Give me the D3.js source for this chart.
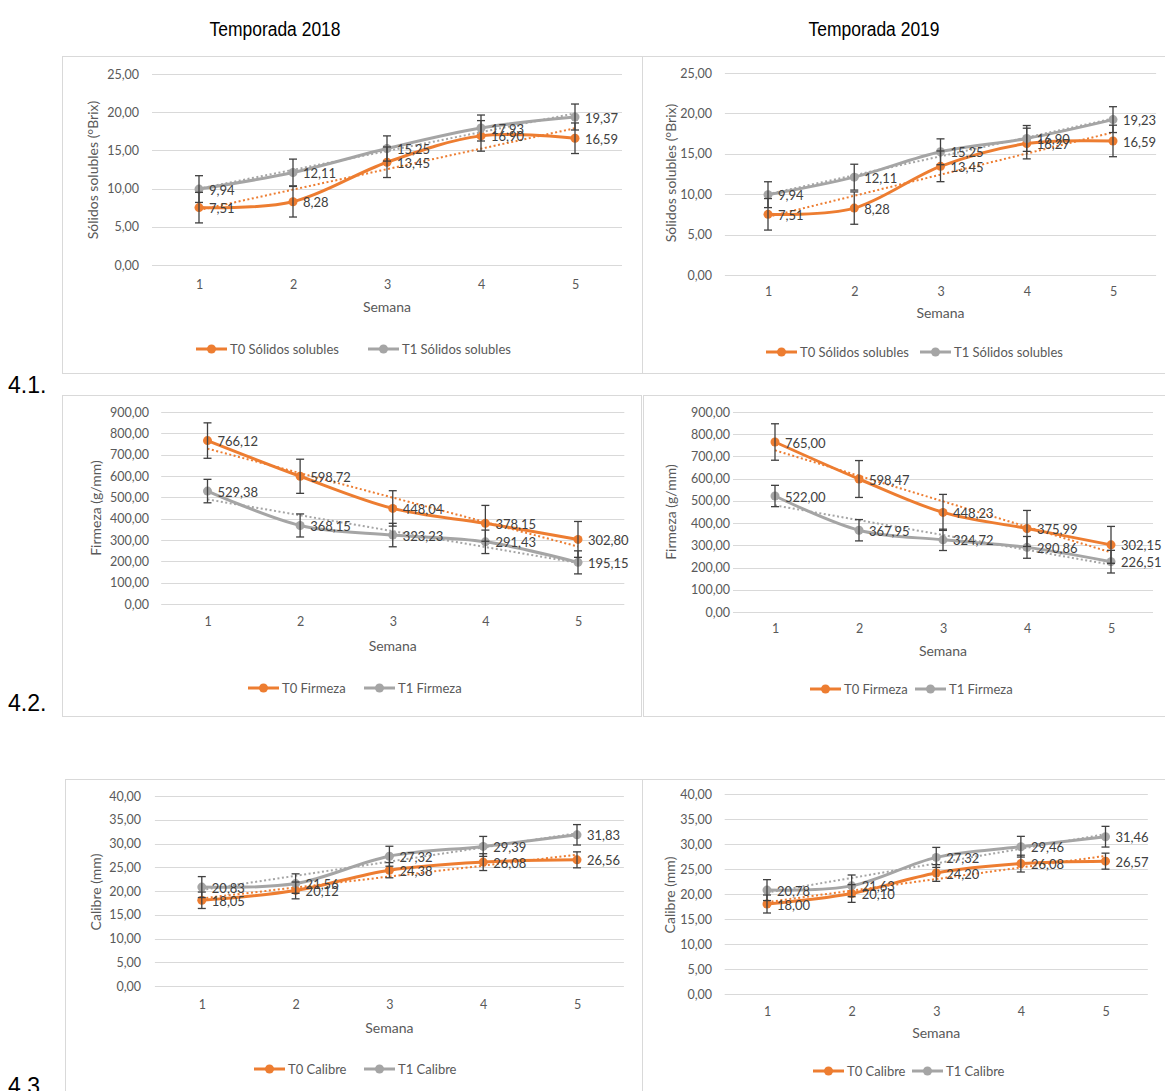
<!DOCTYPE html>
<html>
<head>
<meta charset="utf-8">
<script src="https://cdn.jsdelivr.net/npm/d3@7"></script>
<style>
  body { margin: 0; background: #fff; }
  svg { display: block; }
</style>
</head>
<body>
<div id="chart"></div>
<script>
// Semanas (eje X, categorías)
const weeks = [1, 2, 3, 4, 5];

// Ticks del eje Y de cada variable
const ssTicks = [0, 5, 10, 15, 20, 25];
const firmTicks = [0, 100, 200, 300, 400, 500, 600, 700, 800, 900];
const calTicks = [0, 5, 10, 15, 20, 25, 30, 35, 40];

// 4.1 Sólidos solubles (°Brix)
const ss2018T0 = [7.51, 8.28, 13.45, 16.90, 16.59];
const ss2018T1 = [9.94, 12.11, 15.25, 17.93, 19.37];
const ss2018T0Err = [2.0, 2.0, 2.0, 2.0, 2.0];
const ss2018T1Err = [1.75, 1.75, 1.65, 1.7, 1.7];
const ss2019T0 = [7.51, 8.28, 13.45, 16.27, 16.59];
const ss2019T1 = [9.94, 12.11, 15.25, 16.90, 19.23];
const ss2019T0Err = [1.95, 2.0, 1.9, 1.9, 1.95];
const ss2019T1Err = [1.6, 1.6, 1.6, 1.6, 1.6];

// 4.2 Firmeza (g/mm)
const firm2018T0 = [766.12, 598.72, 448.04, 378.15, 302.80];
const firm2018T1 = [529.38, 368.15, 323.23, 291.43, 195.15];
const firm2018T0Err = [83, 80, 83, 84, 84];
const firm2018T1Err = [55, 54, 55, 55, 54];
const firm2019T0 = [765.00, 598.47, 448.23, 375.99, 302.15];
const firm2019T1 = [522.00, 367.95, 324.72, 290.86, 226.51];
const firm2019T0Err = [82, 83, 81, 81, 83];
const firm2019T1Err = [48, 48, 48, 49, 51];

// 4.3 Calibre (mm)
const cal2018T0 = [18.05, 20.12, 24.38, 26.08, 26.56];
const cal2018T1 = [20.83, 21.56, 27.32, 29.39, 31.83];
const cal2018T0Err = [1.73, 1.77, 1.6, 1.77, 1.68];
const cal2018T1Err = [2.2, 2.05, 2.1, 2.1, 2.15];
const cal2019T0 = [18.00, 20.10, 24.20, 26.08, 26.57];
const cal2019T1 = [20.78, 21.63, 27.32, 29.46, 31.46];
const cal2019T0Err = [1.8, 1.77, 1.67, 1.68, 1.6];
const cal2019T1Err = [2.09, 2.17, 2.0, 2.07, 2.07];

const seasons = ["Temporada 2018", "Temporada 2019"];
const rowLabels = ["4.1.", "4.2.", "4.3"];

const orange = "#ED7D31",
      gray = "#A5A5A5";

const width = 1165,
      height = 1091;

const svg = d3.select("#chart").append("svg")
    .attr("width", width)
    .attr("height", height)
    .attr("viewBox", [0, 0, width, height]);

// comma decimal, no grouping ("900,00")
const fmt = v => d3.format(".2f")(v).replace(".", ",");

// column titles (narrow look of the original)
svg.selectAll(".season")
  .data(seasons)
  .join("text")
    .attr("x", (d, i) => i ? 874 : 275)
    .attr("y", 36)
    .attr("text-anchor", "middle")
    .attr("font-family", "Liberation Sans, Arial, sans-serif")
    .attr("font-size", "20px")
    .attr("textLength", 131)
    .attr("lengthAdjust", "spacingAndGlyphs")
    .attr("fill", "#000")
    .text(d => d);

// row labels
svg.selectAll(".rowlab")
  .data(rowLabels)
  .join("text")
    .attr("x", 8)
    .attr("y", (d, i) => [393, 711, 1094][i])
    .attr("font-family", "Liberation Sans, Arial, sans-serif")
    .attr("font-size", "23px")
    .attr("fill", "#000")
    .text(d => d);

function linearFit(vals) {
  const mx = d3.mean(weeks), my = d3.mean(vals);
  const slope = d3.sum(weeks, (x, i) => (x - mx) * (vals[i] - my)) / d3.sum(weeks, x => (x - mx) ** 2);
  return x => my + slope * (x - mx);
}

function panel(cfg) {
  const g = svg.append("g");

  // chart frame
  g.append("rect")
    .attr("x", cfg.box[0] + 0.5)
    .attr("y", cfg.box[1] + 0.5)
    .attr("width", cfg.box[2] - cfg.box[0])
    .attr("height", cfg.box[3] - cfg.box[1])
    .attr("fill", "#fff")
    .attr("stroke", "#D9D9D9");

  const x = d3.scalePoint()
      .domain(weeks)
      .range([cfg.cats[0], cfg.cats[1]]);
  const step = x.step();

  const y = d3.scaleLinear()
      .domain([cfg.ticks[0], cfg.ticks[cfg.ticks.length - 1]])
      .range([cfg.yRange[0], cfg.yRange[1]]);

  // gridlines
  g.selectAll(".grid")
    .data(cfg.ticks)
    .join("line")
      .attr("x1", cfg.cats[0] - step / 2)
      .attr("x2", cfg.cats[1] + step / 2)
      .attr("y1", d => Math.round(y(d)) + 0.5)
      .attr("y2", d => Math.round(y(d)) + 0.5)
      .attr("stroke", "#D9D9D9")
      .attr("stroke-width", 1);

  const font = "Lato, sans-serif";

  // y axis labels
  g.append("g")
      .attr("transform", `translate(${cfg.yLabelX},0)`)
      .call(d3.axisLeft(y).tickValues(cfg.ticks).tickFormat(fmt).tickSize(0).tickPadding(0))
      .call(a => a.select(".domain").remove())
      .call(a => a.selectAll("text")
        .attr("font-family", font)
        .attr("font-size", "12.5px")
        .attr("fill", "#595959"));

  // x axis labels
  g.append("g")
      .attr("transform", `translate(0,${cfg.xLabelY})`)
      .call(d3.axisBottom(x).tickSize(0).tickPadding(0))
      .call(a => a.select(".domain").remove())
      .call(a => a.selectAll("text")
        .attr("dy", "0.35em")
        .attr("font-family", font)
        .attr("font-size", "12.5px")
        .attr("fill", "#595959"));

  // axis titles
  g.append("text")
    .attr("x", (cfg.cats[0] + cfg.cats[1]) / 2)
    .attr("y", cfg.titleY)
    .attr("dy", "0.35em")
    .attr("text-anchor", "middle")
    .attr("font-family", font)
    .attr("font-size", "14px")
    .attr("fill", "#595959")
    .text("Semana");

  g.append("text")
    .attr("transform", `translate(${cfg.yTitle[0]},${cfg.yTitle[1]}) rotate(-90)`)
    .attr("dy", "0.35em")
    .attr("text-anchor", "middle")
    .attr("font-family", font)
    .attr("font-size", "14px")
    .attr("fill", "#595959")
    .text(cfg.yTitleText);

  const line = d3.line()
      .x((d, i) => x(weeks[i]))
      .y(d => y(d))
      .curve(d3.curveCatmullRom.alpha(0));

  // series lines + markers
  cfg.series.forEach(s => {
    g.append("path")
      .datum(s.values)
      .attr("d", line)
      .attr("fill", "none")
      .attr("stroke", s.color)
      .attr("stroke-width", 3)
      .attr("stroke-linejoin", "round");
    g.selectAll(null)
      .data(s.values)
      .join("circle")
        .attr("cx", (d, i) => x(weeks[i]))
        .attr("cy", d => y(d))
        .attr("r", 4.5)
        .attr("fill", s.color);
  });

  // linear trendlines (dotted)
  cfg.series.forEach(s => {
    const f = linearFit(s.values);
    g.append("line")
      .attr("x1", x(1)).attr("y1", y(f(1)))
      .attr("x2", x(5)).attr("y2", y(f(5)))
      .attr("stroke", s.color)
      .attr("stroke-width", 2)
      .attr("stroke-dasharray", "2,2.5");
  });

  // error bars
  cfg.series.forEach(s => {
    const eb = g.append("g").attr("stroke", "#404040").attr("stroke-width", 1.3);
    s.values.forEach((v, i) => {
      const cx = x(weeks[i]);
      const top = y(v + s.err[i]), bot = y(v - s.err[i]);
      eb.append("line").attr("x1", cx).attr("x2", cx).attr("y1", top).attr("y2", bot);
      eb.append("line").attr("x1", cx - 4).attr("x2", cx + 4).attr("y1", top).attr("y2", top);
      eb.append("line").attr("x1", cx - 4).attr("x2", cx + 4).attr("y1", bot).attr("y2", bot);
    });
  });

  // data labels
  cfg.series.forEach(s => {
    g.selectAll(null)
      .data(s.values)
      .join("text")
        .attr("x", (d, i) => x(weeks[i]) + 10)
        .attr("y", d => y(d) + 1)
        .attr("dy", "0.35em")
        .attr("font-family", font)
        .attr("font-size", "13px")
        .attr("fill", "#404040")
        .text(fmt);
  });

  // legend
  cfg.series.forEach((s, i) => {
    const lx = cfg.legendX[i];
    g.append("line")
      .attr("x1", lx).attr("x2", lx + 31)
      .attr("y1", cfg.legendY).attr("y2", cfg.legendY)
      .attr("stroke", s.color)
      .attr("stroke-width", 3);
    g.append("circle")
      .attr("cx", lx + 15.5).attr("cy", cfg.legendY)
      .attr("r", 4.5)
      .attr("fill", s.color);
    g.append("text")
      .attr("x", lx + 34)
      .attr("y", cfg.legendY)
      .attr("dy", "0.35em")
      .attr("font-family", font)
      .attr("font-size", "13px")
      .attr("fill", "#595959")
      .text(s.name);
  });
}

// 4.1 Sólidos solubles
panel({
  box: [62, 56, 642, 373], cats: [199, 575], ticks: ssTicks, yRange: [265, 74],
  yLabelX: 139, xLabelY: 285, titleY: 307, yTitle: [93, 170], legendY: 349,
  yTitleText: "Sólidos solubles (°Brix)", legendX: [196, 368],
  series: [
    { name: "T0 Sólidos solubles", values: ss2018T0, err: ss2018T0Err, color: orange },
    { name: "T1 Sólidos solubles", values: ss2018T1, err: ss2018T1Err, color: gray }
  ]
});
panel({
  box: [642, 56, 1175, 373], cats: [768, 1113], ticks: ssTicks, yRange: [275, 73],
  yLabelX: 712, xLabelY: 292, titleY: 313, yTitle: [671, 173], legendY: 352,
  yTitleText: "Sólidos solubles (°Brix)", legendX: [766, 920],
  series: [
    { name: "T0 Sólidos solubles", values: ss2019T0, err: ss2019T0Err, color: orange },
    { name: "T1 Sólidos solubles", values: ss2019T1, err: ss2019T1Err, color: gray }
  ]
});

// 4.2 Firmeza
panel({
  box: [62, 395, 641, 716], cats: [207.5, 578], ticks: firmTicks, yRange: [604, 412],
  yLabelX: 149, xLabelY: 622, titleY: 646, yTitle: [96, 508], legendY: 688,
  yTitleText: "Firmeza (g/mm)", legendX: [248, 364],
  series: [
    { name: "T0 Firmeza", values: firm2018T0, err: firm2018T0Err, color: orange },
    { name: "T1 Firmeza", values: firm2018T1, err: firm2018T1Err, color: gray }
  ]
});
panel({
  box: [643, 395, 1175, 716], cats: [775, 1111], ticks: firmTicks, yRange: [612, 412],
  yLabelX: 730, xLabelY: 629, titleY: 651, yTitle: [671, 512], legendY: 689,
  yTitleText: "Firmeza  (g/mm)", legendX: [810, 915],
  series: [
    { name: "T0 Firmeza", values: firm2019T0, err: firm2019T0Err, color: orange },
    { name: "T1 Firmeza", values: firm2019T1, err: firm2019T1Err, color: gray }
  ]
});

// 4.3 Calibre
panel({
  box: [65, 779, 642, 1100], cats: [201.8, 577], ticks: calTicks, yRange: [986, 796],
  yLabelX: 141, xLabelY: 1005, titleY: 1028, yTitle: [96, 892], legendY: 1069,
  yTitleText: "Calibre (mm)", legendX: [254, 364],
  series: [
    { name: "T0 Calibre", values: cal2018T0, err: cal2018T0Err, color: orange },
    { name: "T1 Calibre", values: cal2018T1, err: cal2018T1Err, color: gray }
  ]
});
panel({
  box: [642, 779, 1175, 1100], cats: [767, 1105.5], ticks: calTicks, yRange: [994, 794],
  yLabelX: 712, xLabelY: 1012, titleY: 1033, yTitle: [670, 895], legendY: 1071,
  yTitleText: "Calibre (mm)", legendX: [813, 912],
  series: [
    { name: "T0 Calibre", values: cal2019T0, err: cal2019T0Err, color: orange },
    { name: "T1 Calibre", values: cal2019T1, err: cal2019T1Err, color: gray }
  ]
});
</script>
</body>
</html>
